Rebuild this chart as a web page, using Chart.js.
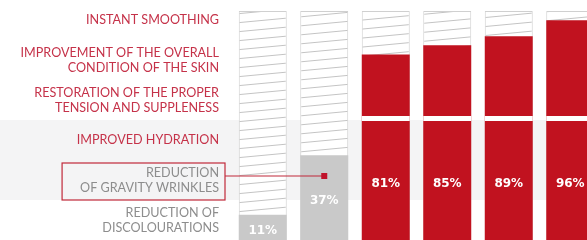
<!DOCTYPE html>
<html>
<head>
<meta charset="utf-8">
<script src="https://cdn.jsdelivr.net/npm/chart.js@4"></script>
<style>
  html, body { margin: 0; padding: 0; background: #fff; overflow: hidden; }
  #wrap { width: 601px; height: 240px; }
</style>
</head>
<body>
<div id="wrap"><canvas id="chart" width="601" height="240"></canvas></div>
<script>
// bars, left to right
const categories = [
  "REDUCTION OF DISCOLOURATIONS",
  "REDUCTION OF GRAVITY WRINKLES",
  "IMPROVED HYDRATION",
  "RESTORATION OF THE PROPER TENSION AND SUPPLENESS",
  "IMPROVEMENT OF THE OVERALL CONDITION OF THE SKIN",
  "INSTANT SMOOTHING"
];
// same labels as they are broken on the left side
const labelLines = [
  ["REDUCTION OF", "DISCOLOURATIONS"],
  ["REDUCTION", "OF GRAVITY WRINKLES"],
  ["IMPROVED HYDRATION"],
  ["RESTORATION OF THE PROPER", "TENSION AND SUPPLENESS"],
  ["IMPROVEMENT OF THE OVERALL", "CONDITION OF THE SKIN"],
  ["INSTANT SMOOTHING"]
];
const values = [11, 37, 81, 85, 89, 96];
const kind = ["minor", "minor", "major", "major", "major", "major"];
const fullScale = [100, 100, 100, 100, 100, 100];
const highlightIndex = 1;

const RED = "#c1121f";
const GRAY_FILL = "#c9c9c9";
const RED_TEXT = "#c53249";
const GRAY_TEXT = "#8d8d8d";
const LABEL_FONT = { family: "Lato", size: 12.6, weight: "400", lineHeight: 1.2 };

// labels on the left are listed top to bottom = last bar first
const rowLabels = labelLines.slice().reverse();
const rowKind = kind.slice().reverse();

function hatchPattern() {
  const c = document.createElement("canvas");
  c.width = 96;
  c.height = 9;
  const g = c.getContext("2d");
  g.fillStyle = "#ffffff";
  g.fillRect(0, 0, 96, 9);
  g.strokeStyle = "#c4c4c4";
  g.lineWidth = 1;
  for (let k = -1; k <= 1; k++) {
    g.beginPath();
    g.moveTo(0, 9 * k + 9);
    g.lineTo(96, 9 * k);
    g.stroke();
  }
  return g.createPattern(c, "repeat");
}

const decor = {
  id: "decor",
  beforeDraw(chart) {
    // light band behind rows 4 and 5
    const rows = chart.scales.rows;
    const step = rows.getPixelForTick(1) - rows.getPixelForTick(0);
    const top = rows.getPixelForTick(3) - step / 2;
    const bottom = rows.getPixelForTick(4) + step / 2;
    const ctx = chart.ctx;
    ctx.save();
    ctx.fillStyle = "#f4f4f5";
    ctx.fillRect(0, top, chart.width, bottom - top);
    ctx.restore();
  },
  afterDatasetsDraw(chart) {
    const ctx = chart.ctx;
    const rows = chart.scales.rows;
    const step = rows.getPixelForTick(1) - rows.getPixelForTick(0);
    const gapY = rows.getPixelForTick(2) + step / 2;
    const meta = chart.getDatasetMeta(0);

    ctx.save();
    // white cut through the tall bars
    meta.data.forEach((bar) => {
      if (bar.y < gapY - 4) {
        ctx.fillStyle = "#ffffff";
        ctx.fillRect(bar.x - bar.width / 2, gapY - 4, bar.width, 5);
      }
    });

    // percentages
    ctx.fillStyle = "#ffffff";
    ctx.font = "bold 12px 'DejaVu Sans'";
    ctx.textAlign = "center";
    ctx.textBaseline = "middle";
    meta.data.forEach((bar, i) => {
      const top = Math.max(bar.y, gapY + 1);
      ctx.fillText(values[i] + "%", bar.x, (top + bar.base) / 2 + 3);
    });

    // highlighted label box + connector
    const rowIndex = categories.length - 1 - highlightIndex;
    const cy = rows.getPixelForTick(rowIndex);
    ctx.font = LABEL_FONT.weight + " " + LABEL_FONT.size + "px " + LABEL_FONT.family;
    const w = Math.max(...labelLines[highlightIndex].map((t) => ctx.measureText(t).width));
    const right = rows.right - rows.options.ticks.padding;
    const bx0 = right - w - 18;
    const bx1 = right + 6;
    ctx.strokeStyle = "#c0283a";
    ctx.lineWidth = 1.2;
    ctx.strokeRect(bx0, cy - 17, bx1 - bx0, 37);
    const bar = meta.data[highlightIndex];
    const ly = cy - 4;
    ctx.beginPath();
    ctx.moveTo(bx1, ly);
    ctx.lineTo(bar.x, ly);
    ctx.stroke();
    ctx.fillStyle = "#c0122a";
    ctx.fillRect(bar.x - 3, ly - 3, 6, 6);
    ctx.restore();
  }
};

const ctx = document.getElementById("chart").getContext("2d");
new Chart(ctx, {
  type: "bar",
  data: {
    labels: categories,
    datasets: [
      {
        label: "result",
        data: values,
        xAxisID: "x",
        yAxisID: "y",
        backgroundColor: values.map((v, i) => (kind[i] === "major" ? RED : GRAY_FILL)),
        borderWidth: 0,
        grouped: false,
        order: 0,
        barPercentage: 0.78,
        categoryPercentage: 1
      },
      {
        label: "scale",
        data: fullScale,
        xAxisID: "x",
        yAxisID: "y",
        backgroundColor: hatchPattern(),
        borderColor: "#d0d0d0",
        borderWidth: 1,
        grouped: false,
        order: 1,
        barPercentage: 0.78,
        categoryPercentage: 1
      }
    ]
  },
  options: {
    responsive: false,
    animation: false,
    events: [],
    layout: { padding: 0 },
    plugins: {
      legend: { display: false },
      tooltip: { enabled: false }
    },
    scales: {
      x: { display: false, offset: true },
      y: { display: false, min: 0, max: 104.8 },
      rows: {
        type: "category",
        position: "left",
        labels: rowLabels,
        offset: true,
        grid: { display: false, drawTicks: false },
        border: { display: false },
        ticks: {
          padding: 13,
          autoSkip: false,
          font: LABEL_FONT,
          color: (c) => (rowKind[c.index] === "major" ? RED_TEXT : GRAY_TEXT)
        },
        afterFit(scale) {
          scale.width = 232;
          scale.paddingTop = 0;
          scale.paddingBottom = 0;
        }
      }
    }
  },
  plugins: [decor]
});
</script>
</body>
</html>
